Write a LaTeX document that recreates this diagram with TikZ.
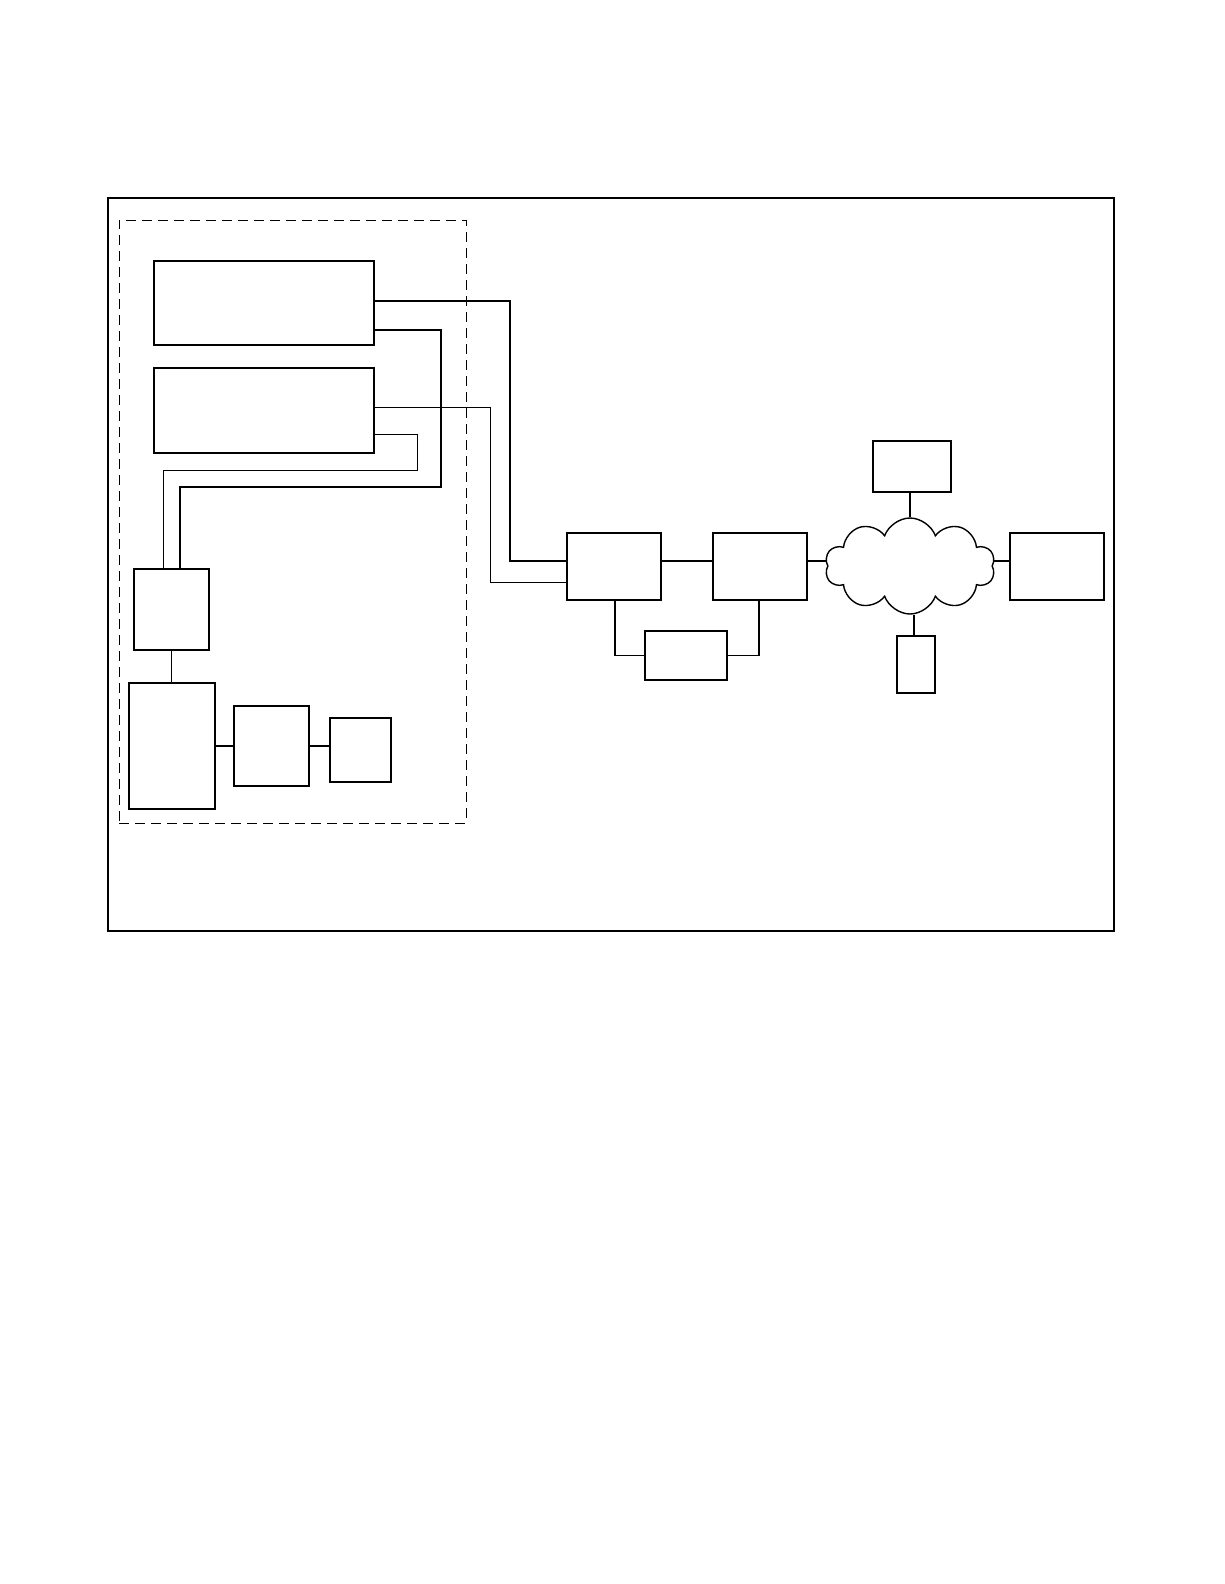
\documentclass[tikz,border=0pt]{standalone}
\usetikzlibrary{shapes.symbols}
\begin{document}
\begin{tikzpicture}[x=1pt,y=-1pt,
  blk/.style={draw, line width=1.6pt, inner sep=0pt},
  conn/.style={line width=1.6pt},
  thinconn/.style={line width=1.2pt}]
\useasboundingbox (0,0) rectangle (1224,1584);
% frames
\node[draw, line width=1.5pt, inner sep=0pt, minimum width=1006pt, minimum height=733pt] (frame) at (611,564.5) {};
\node[draw, line width=1pt, dash pattern=on 10pt off 6pt, inner sep=0pt, minimum width=347pt, minimum height=603pt] (group) at (292.5,521.5) {};
% blocks
\node[blk, minimum width=220pt, minimum height=84pt] (A) at (264,303) {};
\node[blk, minimum width=220pt, minimum height=85pt] (B) at (264,410.5) {};
\node[blk, minimum width=75pt, minimum height=81pt] (D) at (171.5,609.5) {};
\node[blk, minimum width=86pt, minimum height=126pt] (E) at (172,746) {};
\node[blk, minimum width=75pt, minimum height=80pt] (F) at (271.5,746) {};
\node[blk, minimum width=61pt, minimum height=64pt] (G) at (360.5,750) {};
\node[blk, minimum width=94pt, minimum height=67pt] (C) at (614,566.5) {};
\node[blk, minimum width=94pt, minimum height=67pt] (H) at (760,566.5) {};
\node[blk, minimum width=82pt, minimum height=49pt] (I) at (686,655.5) {};
\node[blk, minimum width=78pt, minimum height=51pt] (J) at (912,466.5) {};
\node[blk, minimum width=94pt, minimum height=67pt] (K) at (1057,566.5) {};
\node[blk, minimum width=38pt, minimum height=57pt] (L) at (916,664.5) {};
\node[cloud, draw, line width=1.4pt, cloud puffs=10, cloud puff arc=140, cloud ignores aspect,
  inner sep=0pt, minimum width=170pt, minimum height=96pt] (net) at (910,566) {};
% connectors
\draw[conn] ([yshift=2pt]A.east) -- ++(135,0) |- ([yshift=5.5pt]C.west);
\draw[conn] ([yshift=-27pt]A.east) -- ++(66,0) -- ++(0,157) -| ([xshift=8.5pt]D.north);
\draw[thinconn] ([yshift=3pt]B.east) -- ++(116,0) |- ([yshift=-16pt]C.west);
\draw[conn] ([yshift=-24pt]B.east) -- ++(42.7,0) -- ++(0,36) -| ([xshift=-8.2pt]D.north);
\draw[conn] (D.south) -- (D.south |- E.north);
\draw[conn] (E.east) -- (F.west);
\draw[conn] (F.east) -- (F.east -| G.west);
\draw[conn] ([yshift=5.5pt]C.east) -- ([yshift=5.5pt]H.west);
\draw[conn] ([xshift=1pt]C.south) |- (I.west);
\draw[conn] ([xshift=-1pt]H.south) |- (I.east);
\draw[conn] ([yshift=5.5pt]H.east) -- ([yshift=5.5pt]H.east -| net.west);
\draw[conn] ([yshift=5.5pt]K.west) -- ([yshift=5.5pt]K.west -| net.east);
\draw[conn] (net.north) -- (net.north |- J.south);
\draw[conn] ([xshift=-2pt]L.north) -- ([xshift=-2pt]L.north |- net.south);
\end{tikzpicture}
\end{document}
